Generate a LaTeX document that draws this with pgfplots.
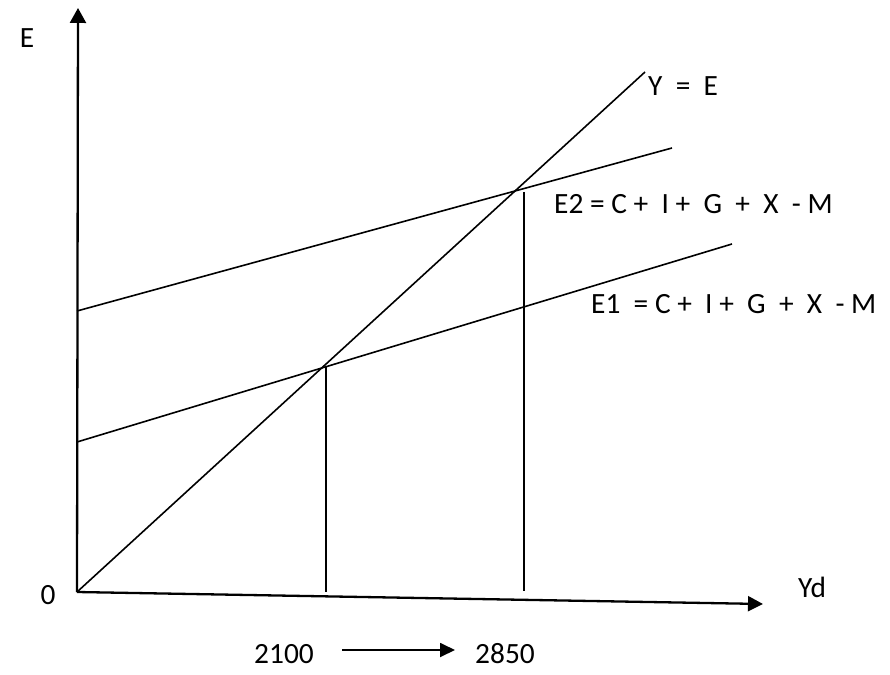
\documentclass[border=0pt]{standalone}
\usepackage{pgfplots}
\pgfplotsset{compat=1.18}
\usetikzlibrary{arrows.meta}
\usepackage{fontspec}
\setmainfont{Carlito}
\newcommand\lbl{\fontsize{29.5}{34}\selectfont}
\begin{document}
\begin{tikzpicture}
\begin{axis}[
  scale only axis, width=890bp, height=674bp,
  xmin=0, xmax=890, ymin=0, ymax=674,
  hide axis, clip=false,
]
% frame to fix bounding box
\addplot[draw=none] coordinates {(0,0) (890,674)};
% axes
\addplot[black, line width=2.3bp, -{Triangle[length=15bp,width=16bp]}] coordinates {(77,82) (78,666)};
\addplot[black, line width=2.3bp, -{Triangle[length=15bp,width=15bp]}] coordinates {(77,82) (763,70)};
% Y = E
\addplot[black, line width=1.6bp] coordinates {(77,82) (645,602)};
% E2
\addplot[black, line width=1.6bp] coordinates {(77,363) (672,526)};
% E1
\addplot[black, line width=1.6bp] coordinates {(77,232) (732,430)};
% verticals
\addplot[black, line width=1.6bp] coordinates {(326,308) (326,82)};
\addplot[black, line width=1.6bp] coordinates {(524,482) (524,83)};
% 2100 -> 2850 arrow
\addplot[black, line width=1.8bp, -{Triangle[length=15bp,width=14bp]}] coordinates {(342,24) (455,24)};
% labels
\node[font=\lbl, inner sep=0pt] at (axis cs:27,636) {E};
\node[font=\lbl, inner sep=0pt] at (axis cs:48,79) {0};
\node[font=\lbl, inner sep=0pt, anchor=west] at (axis cs:798,87) {Yd};
\node[font=\lbl, inner sep=0pt, anchor=west] at (axis cs:648,588) {Y~~=~~E};
\node[font=\lbl, inner sep=0pt, anchor=west] at (axis cs:554,470) {E2 = C +~~I +~~G~~+~~X~~- M};
\node[font=\lbl, inner sep=0pt, anchor=west] at (axis cs:591,370) {E1~~= C + ~I + ~G~~+~~X~~- M};
\node[font=\lbl, inner sep=0pt] at (axis cs:284,20) {2100};
\node[font=\lbl, inner sep=0pt] at (axis cs:505,20) {2850};
\end{axis}
\end{tikzpicture}
\end{document}
